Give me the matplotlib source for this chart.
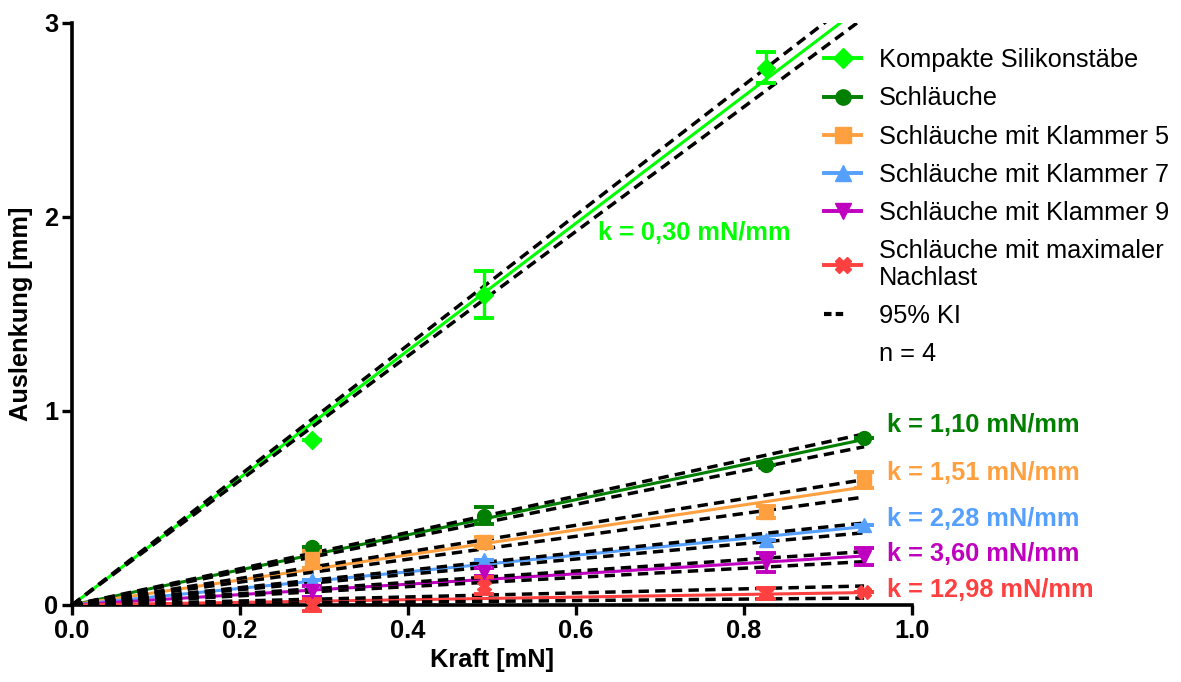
import matplotlib
matplotlib.use("Agg")
import matplotlib.pyplot as plt
from matplotlib.lines import Line2D
import numpy as np

plt.rcParams['font.family'] = ['Liberation Sans', 'DejaVu Sans']

# ---- data ----
force = [0.286, 0.49, 0.826, 0.943]

labels = ["Kompakte Silikonstäbe", "Schläuche", "Schläuche mit Klammer 5",
          "Schläuche mit Klammer 7", "Schläuche mit Klammer 9",
          "Schläuche mit maximaler\nNachlast"]
colors = ["#00FF00", "#007F00", "#FFA040", "#55A0FF", "#BF00BF", "#FF4040"]
markers = ["D", "o", "s", "^", "v", "X"]

compact_y   = [0.85, 1.60, 2.77, np.nan]
compact_err = [0.00, 0.12, 0.08, np.nan]
tube_y      = [0.30, 0.46, 0.72, 0.86]
tube_err    = [0.00, 0.045, 0.00, 0.00]
k5_y        = [0.235, 0.325, 0.48, 0.645]
k5_err      = [0.045, 0.025, 0.03, 0.04]
k7_y        = [0.13, 0.23, 0.335, 0.41]
k7_err      = [0.00, 0.00, 0.00, 0.00]
k9_y        = [0.07, 0.17, 0.22, 0.25]
k9_err      = [0.03, 0.02, 0.05, 0.045]
maxl_y      = [0.00, 0.10, 0.06, 0.067]
maxl_err    = [0.03, 0.045, 0.03, 0.00]

series_y = [compact_y, tube_y, k5_y, k7_y, k9_y, maxl_y]
series_err = [compact_err, tube_err, k5_err, k7_err, k9_err, maxl_err]

# fitted slopes (mm/mN) and 95% CI slopes
fit_slope = [3.28, 0.905, 0.645, 0.428, 0.268, 0.068]
ci_low    = [3.21, 0.865, 0.590, 0.395, 0.237, 0.038]
ci_high   = [3.35, 0.935, 0.685, 0.448, 0.292, 0.104]
fit_x = [0.0, 0.943]

k_text = ["k = 0,30 mN/mm", "k = 1,10 mN/mm", "k = 1,51 mN/mm",
          "k = 2,28 mN/mm", "k = 3,60 mN/mm", "k = 12,98 mN/mm"]
k_pos = [(0.626, 1.92), (0.970, 0.928), (0.970, 0.68),
         (0.970, 0.443), (0.970, 0.263), (0.970, 0.077)]

FS = 18.3

# ---- figure ----
fig = plt.figure(figsize=(11.81, 6.82), dpi=100)
ax = fig.add_axes([72/1181, 1-605/682, 840/1181, 582/682])

fx = np.array(fit_x)
for i in range(len(labels)):
    ax.plot(fx, fit_slope[i]*fx, color=colors[i], lw=2.2, zorder=3)
for i in range(len(labels)):
    for s in (ci_low[i], ci_high[i]):
        ax.plot(fx, s*fx, color='black', lw=2.5, ls=(0, (3.0, 1.8)), zorder=4)
for i in range(len(labels)):
    ax.errorbar(force, series_y[i], yerr=series_err[i], fmt=markers[i],
                color=colors[i], ms=10 if markers[i] != "D" else 9,
                elinewidth=2.4, capsize=7, capthick=2.8, zorder=5,
                clip_on=False)

for i, (t, (x, y)) in enumerate(zip(k_text, k_pos)):
    ax.text(x, y, t, color=colors[i], fontsize=FS, fontweight='bold',
            ha='left', va='center', clip_on=False)

ax.set_xlim(0, 1.0)
ax.set_ylim(0, 3)
ax.set_xticks([0.0, 0.2, 0.4, 0.6, 0.8, 1.0])
ax.set_xticklabels(["0.0", "0.2", "0.4", "0.6", "0.8", "1.0"])
ax.set_yticks([0, 1, 2, 3])
ax.set_yticklabels(["0", "1", "2", "3"])
for lab in ax.get_xticklabels() + ax.get_yticklabels():
    lab.set_fontweight('bold')
    lab.set_fontsize(FS)
ax.tick_params(width=2.4, length=7, direction='out', pad=3)
ax.spines['top'].set_visible(False)
ax.spines['right'].set_visible(False)
for sp in ('left', 'bottom'):
    ax.spines[sp].set_linewidth(2.6)
ax.set_xlabel("Kraft [mN]", fontsize=FS, fontweight='bold', labelpad=4)
ax.set_ylabel("Auslenkung [mm]", fontsize=FS, fontweight='bold', labelpad=8)

handles = []
for i in range(len(labels)):
    handles.append(Line2D([], [], color=colors[i], lw=2.8, marker=markers[i],
                          ms=11 if markers[i] != "D" else 10))
handles.append(Line2D([], [], color='black', lw=3, ls=(0, (1.8, 1.0, 1.8, 30))))
handles.append(Line2D([], [], color='none'))
leg_labels = labels + ["95% KI", "n = 4"]
leg = fig.legend(handles, leg_labels, loc='upper left',
                 bbox_to_anchor=(814/1181, 1-38/682), frameon=False, fontsize=FS,
                 handlelength=1.45, handletextpad=0.7, labelspacing=0.56,
                 borderaxespad=0)
for t in leg.get_texts():
    t.set_linespacing(1.12)

fig.savefig("out.png", dpi=100)
